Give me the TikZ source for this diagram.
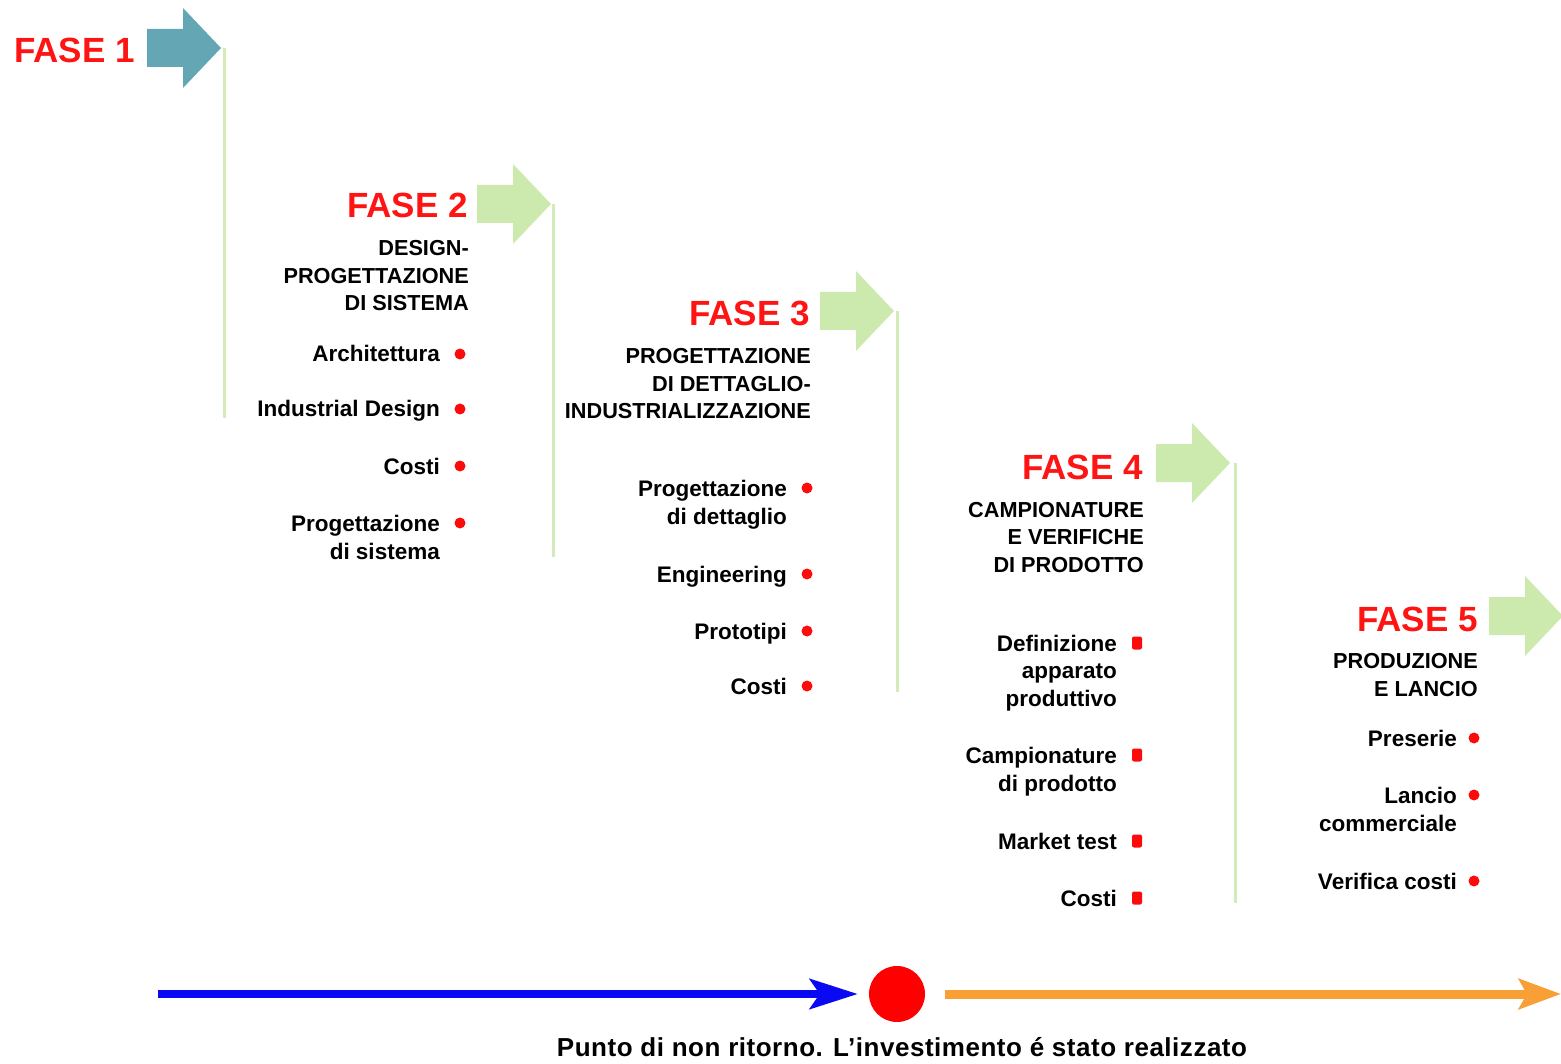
\documentclass[tikz,border=0pt]{standalone}
\usepackage{fontspec}
\setmainfont{Liberation Sans}
\newfontfamily\captionfont[LetterSpace=2]{Liberation Sans}
\usetikzlibrary{arrows.meta}

\definecolor{faseRed}{HTML}{FF1414}
\definecolor{firstArrow}{HTML}{64A6B4}
\definecolor{phaseGreen}{HTML}{CDEAAE}
\definecolor{stemGreen}{HTML}{D2EBB8}
\definecolor{runBlue}{HTML}{0A0AF2}
\definecolor{runOrange}{HTML}{F8A036}
\definecolor{dotRed}{HTML}{FF0A0A}

% multi-line nodes are placed by the baseline of their last line
\tikzset{
  fase/.style={font=\fontsize{35}{40}\selectfont\bfseries, text=faseRed,
    anchor=base east, inner sep=0pt},
  sub/.style={font=\fontsize{21.7}{27.5}\selectfont\bfseries, align=right,
    anchor=base east, inner sep=0pt},
  item/.style={font=\fontsize{22.5}{28.5}\selectfont\bfseries, align=right,
    anchor=base east, inner sep=0pt},
  dot/.style={circle, fill=dotRed, inner sep=0pt, minimum size=11},
  sqdot/.style={rectangle, rounded corners=2, fill=dotRed, inner sep=0pt,
    minimum width=10, minimum height=13},
  stem/.style={draw=stemGreen, line width=3},
  pics/phase/.style={code={
    \fill[#1] (0,-19) -- (36,-19) -- (36,-40) -- (74,0) -- (36,40)
      -- (36,19) -- (0,19) -- cycle;
    \coordinate (-tip) at (74,0);
  }}
}

\begin{document}
\begin{tikzpicture}[x=1pt,y=-1pt]
\useasboundingbox (0,0) rectangle (1561,1064);

% phase arrows and their stems
\pic (p1) at (147,48)  {phase=firstArrow};
\pic (p2) at (477,204) {phase=phaseGreen};
\pic (p3) at (820,311) {phase=phaseGreen};
\pic (p4) at (1156,463) {phase=phaseGreen};
\pic (p5) at (1489,616) {phase=phaseGreen};

\coordinate (e1) at (224,418);
\coordinate (e2) at (553,557);
\coordinate (e3) at (897,692);
\coordinate (e4) at (1235,903);
\draw[stem] (p1-tip -| e1) -- (e1);
\draw[stem] (p2-tip -| e2) -- (e2);
\draw[stem] (p3-tip -| e3) -- (e3);
\draw[stem] (p4-tip -| e4) -- (e4);

% phase titles
\node[fase] (f1) at (135,63)  {FASE 1};
\node[fase] (f2) at (468,218) {FASE 2};
\node[fase] (f3) at (810,326) {FASE 3};
\node[fase] (f4) at (1143,479) {FASE 4};
\node[fase] (f5) at (1478,631) {FASE 5};

% phase subtitles
\node[sub] (s2) at (469,311)  {DESIGN-\\PROGETTAZIONE\\DI SISTEMA};
\node[sub] (s3) at (811,419)  {PROGETTAZIONE\\DI DETTAGLIO-\\INDUSTRIALIZZAZIONE};
\node[sub] (s4) at (1144,572) {CAMPIONATURE\\E VERIFICHE\\DI PRODOTTO};
\node[sub] (s5) at (1478,696) {PRODUZIONE\\E LANCIO};

% phase 2 activities
\node[dot]  (b21) at (460,354) {};
\node[item] (t21) at (440,362) {Architettura};
\node[dot]  (b22) at (460,409) {};
\node[item] (t22) at (440,417) {Industrial Design};
\node[dot]  (b23) at (460,466) {};
\node[item] (t23) at (440,474) {Costi};
\node[dot]  (b24) at (460,523) {};
\node[item] (t24) at (440,559.5) {Progettazione\\di sistema};

% phase 3 activities
\node[dot]  (b31) at (807,488) {};
\node[item] (t31) at (787,524.5) {Progettazione\\di dettaglio};
\node[dot]  (b32) at (807,574) {};
\node[item] (t32) at (787,582) {Engineering};
\node[dot]  (b33) at (807,631) {};
\node[item] (t33) at (787,639) {Prototipi};
\node[dot]  (b34) at (807,686) {};
\node[item] (t34) at (787,694) {Costi};

% phase 4 activities
\node[sqdot] (b41) at (1137,643) {};
\node[item, font=\fontsize{22.5}{27.5}\selectfont\bfseries]
             (t41) at (1117,706) {Definizione\\apparato\\produttivo};
\node[sqdot] (b42) at (1137,755) {};
\node[item]  (t42) at (1117,791.5) {Campionature\\di prodotto};
\node[sqdot] (b43) at (1137,841) {};
\node[item]  (t43) at (1117,849) {Market test};
\node[sqdot] (b44) at (1137,898) {};
\node[item]  (t44) at (1117,906) {Costi};

% phase 5 activities
\node[dot]  (b51) at (1474,738) {};
\node[item] (t51) at (1457,746) {Preserie};
\node[dot]  (b52) at (1474,795) {};
\node[item] (t52) at (1457,831.5) {Lancio\\commerciale};
\node[dot]  (b53) at (1474,881) {};
\node[item] (t53) at (1457,889) {Verifica costi};

% investment timeline
\coordinate (start) at (158,994);
\coordinate (finish) at (1561,994);
\node[circle, fill=red, inner sep=0pt, minimum size=56] (pnr) at (897,994) {};
\draw[runBlue, line width=8, shorten >=11pt,
  -{Stealth[length=48pt,width=30pt,inset=10pt]}] (start) -- (pnr.west);
\draw[runOrange, line width=9, shorten <=20pt,
  -{Stealth[length=42pt,width=30pt,inset=8pt]}] (pnr.east) -- (finish);
\node[font=\fontsize{26}{30}\selectfont\captionfont\bfseries, anchor=base,
  inner sep=0pt] (cap) at (902,1056)
  {Punto di non ritorno. L’investimento é stato realizzato};
\end{tikzpicture}
\end{document}
